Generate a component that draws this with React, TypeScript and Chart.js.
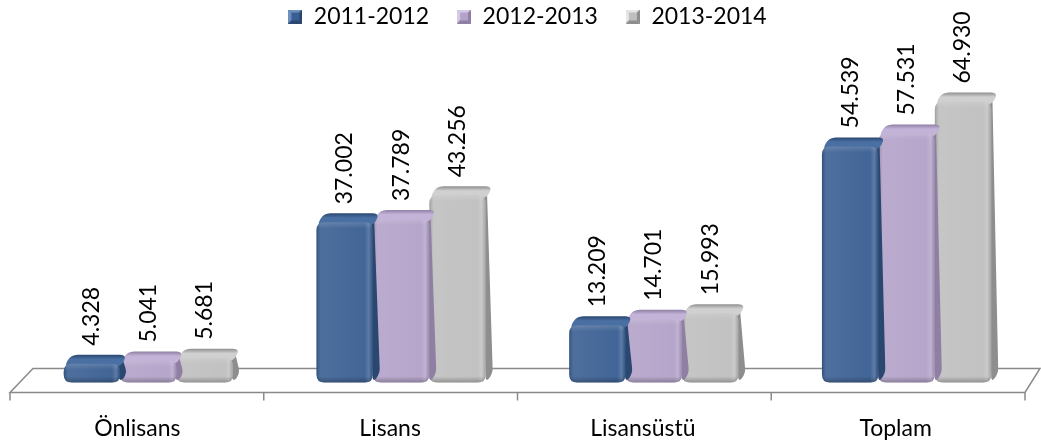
import React, { useEffect, useRef } from 'react';
import { Chart, registerables } from 'chart.js';

Chart.register(...registerables);

const categories = ['Önlisans', 'Lisans', 'Lisansüstü', 'Toplam'];
const seriesNames = ['2011-2012', '2012-2013', '2013-2014'];
const values2011 = [4328, 37002, 13209, 54539];
const values2012 = [5041, 37789, 14701, 57531];
const values2013 = [5681, 43256, 15993, 64930];
const frontColors = ['#3A5F93', '#B3A2C9', '#BFBFBF'];
const topColors = ['#4A6FA3', '#C3B3D8', '#D0D0D0'];
const sideColors = ['#2A4770', '#8E7FA3', '#8E8E8E'];
const lightColors = ['#6F8FBF', '#D6CAE6', '#E6E6E6'];

const FONT = 'Lato, "Open Sans", sans-serif';

function fmt(v: number): string {
  const s = String(Math.round(v));
  return s.replace(/\B(?=(\d{3})+(?!\d))/g, '.');
}

const DX = 7;
const DY = 9;

function roundedPoly(ctx: CanvasRenderingContext2D, pts: number[][], r: number) {
  const n = pts.length;
  ctx.beginPath();
  for (let i = 0; i < n; i++) {
    const p0 = pts[(i - 1 + n) % n];
    const p1 = pts[i];
    const p2 = pts[(i + 1) % n];
    const d1 = Math.hypot(p1[0] - p0[0], p1[1] - p0[1]);
    const d2 = Math.hypot(p2[0] - p1[0], p2[1] - p1[1]);
    const rr = Math.min(r, d1 / 2, d2 / 2);
    const a = [p1[0] + ((p0[0] - p1[0]) * rr) / d1, p1[1] + ((p0[1] - p1[1]) * rr) / d1];
    const b = [p1[0] + ((p2[0] - p1[0]) * rr) / d2, p1[1] + ((p2[1] - p1[1]) * rr) / d2];
    if (i === 0) ctx.moveTo(a[0], a[1]);
    else ctx.lineTo(a[0], a[1]);
    ctx.quadraticCurveTo(p1[0], p1[1], b[0], b[1]);
  }
  ctx.closePath();
}

function makeMarker(i: number): HTMLCanvasElement {
  const c = document.createElement('canvas');
  c.width = 14;
  c.height = 14;
  const g = c.getContext('2d');
  if (!g) return c;
  const s = 14;
  const e = 3;
  g.fillStyle = frontColors[i];
  g.fillRect(0, 0, s, s);
  // top bevel
  g.fillStyle = lightColors[i];
  g.beginPath();
  g.moveTo(0, 0); g.lineTo(s, 0); g.lineTo(s - e, e); g.lineTo(e, e); g.closePath();
  g.fill();
  // left bevel
  g.beginPath();
  g.moveTo(0, 0); g.lineTo(e, e); g.lineTo(e, s - e); g.lineTo(0, s); g.closePath();
  g.fill();
  // bottom / right bevel
  g.fillStyle = sideColors[i];
  g.beginPath();
  g.moveTo(0, s); g.lineTo(e, s - e); g.lineTo(s - e, s - e); g.lineTo(s, s); g.closePath();
  g.fill();
  g.beginPath();
  g.moveTo(s, 0); g.lineTo(s, s); g.lineTo(s - e, s - e); g.lineTo(s - e, e); g.closePath();
  g.fill();
  return c;
}

const floorPlugin = {
  id: 'floor3d',
  beforeDatasetsDraw(chart: any) {
    const { ctx, chartArea } = chart;
    const { left, right, bottom } = chartArea;
    const fy = bottom + 10;
    const by = bottom - 14;
    const fl = left - 12;
    const fr = right - 8;
    const bl = left + 11;
    const br = right + 7;
    ctx.save();
    ctx.strokeStyle = '#8A8A8A';
    ctx.lineWidth = 1.5;
    ctx.beginPath();
    ctx.moveTo(fl, fy);
    ctx.lineTo(fr, fy);
    ctx.lineTo(br, by);
    ctx.lineTo(bl, by);
    ctx.closePath();
    ctx.stroke();
    const n = categories.length;
    ctx.beginPath();
    for (let i = 0; i <= n; i++) {
      const x = fl + ((fr - fl) * i) / n;
      ctx.moveTo(x, fy);
      ctx.lineTo(x, fy + 8);
    }
    ctx.stroke();
    ctx.restore();
  },
};

const bar3dPlugin = {
  id: 'bar3d',
  afterDatasetDraw(chart: any, args: any) {
    const { ctx } = chart;
    const di = args.index;
    const meta = args.meta;
    const ds = chart.data.datasets[di];
    ctx.save();
    meta.data.forEach((el: any, i: number) => {
      const p = el.getProps(['x', 'y', 'base', 'width'], true);
      const l = p.x - p.width / 2;
      const r = p.x + p.width / 2;
      const t = p.y;
      const b = p.base;
      // side face
      roundedPoly(ctx, [[r - 6, t], [r - 6 + DX, t - DY], [r + DX, b - DY], [r, b]], 6);
      ctx.fillStyle = sideColors[di];
      ctx.fill();
      // top face
      roundedPoly(ctx, [[l, t + 4], [l + DX, t - DY], [r + DX, t - DY], [r, t + 4]], 7);
      const tg = ctx.createLinearGradient(0, t - DY, 0, t + 4);
      tg.addColorStop(0, sideColors[di]);
      tg.addColorStop(0.35, topColors[di]);
      tg.addColorStop(1, topColors[di]);
      ctx.fillStyle = tg;
      ctx.fill();
      // front face
      roundedPoly(ctx, [[l, t], [r, t], [r, b], [l, b]], 8);
      ctx.fillStyle = frontColors[di];
      ctx.fill();
      const hg = ctx.createLinearGradient(l, 0, r, 0);
      hg.addColorStop(0, 'rgba(0,0,0,0.18)');
      hg.addColorStop(0.08, 'rgba(255,255,255,0.10)');
      hg.addColorStop(0.85, 'rgba(255,255,255,0.04)');
      hg.addColorStop(0.93, 'rgba(255,255,255,0.18)');
      hg.addColorStop(1, 'rgba(0,0,0,0.12)');
      ctx.fillStyle = hg;
      ctx.fill();
      const vg = ctx.createLinearGradient(0, t, 0, b);
      const h = Math.max(b - t, 1);
      vg.addColorStop(0, 'rgba(255,255,255,0.15)');
      vg.addColorStop(Math.min(6 / h, 0.5), 'rgba(255,255,255,0)');
      vg.addColorStop(Math.max(1 - 6 / h, 0.5), 'rgba(0,0,0,0)');
      vg.addColorStop(1, 'rgba(0,0,0,0.25)');
      ctx.fillStyle = vg;
      ctx.fill();
      // value label
      const v = ds.data[i] as number;
      ctx.save();
      ctx.translate(p.x, t - DY - 9);
      ctx.rotate(-Math.PI / 2);
      ctx.fillStyle = '#000000';
      ctx.font = `23px ${FONT}`;
      ctx.textAlign = 'left';
      ctx.textBaseline = 'middle';
      ctx.fillText(fmt(v), 0, 0);
      ctx.restore();
    });
    ctx.restore();
  },
};

export default function App() {
  const ref = useRef<HTMLCanvasElement | null>(null);

  useEffect(() => {
    document.body.style.margin = '0';
    const canvas = ref.current;
    if (!canvas) return;
    const allSeries = [values2011, values2012, values2013];
    const markers = seriesNames.map((_, i) => makeMarker(i));
    const chart = new Chart(canvas, {
      type: 'bar',
      data: {
        labels: categories,
        datasets: allSeries.map((vals, i) => ({
          label: seriesNames[i],
          data: vals,
          backgroundColor: 'rgba(0,0,0,0)',
          borderWidth: 0,
          barPercentage: 1.0,
          categoryPercentage: 0.67,
        })),
      },
      options: {
        responsive: false,
        animation: false,
        maintainAspectRatio: false,
        layout: { padding: { left: 22, right: 8, top: -23, bottom: -22 } },
        plugins: {
          tooltip: { enabled: false },
          legend: {
            position: 'top',
            labels: {
              boxWidth: 14,
              boxHeight: 14,
              usePointStyle: true,
              padding: 28,
              color: '#000000',
              font: { family: FONT, size: 23 },
              generateLabels: () =>
                seriesNames.map((name, i) => ({
                  text: name,
                  fillStyle: frontColors[i],
                  strokeStyle: sideColors[i],
                  lineWidth: 0,
                  pointStyle: markers[i],
                  datasetIndex: i,
                  hidden: false,
                })),
            },
          },
        },
        scales: {
          x: {
            grid: { display: false },
            border: { display: false },
            ticks: {
              color: '#000000',
              font: { family: FONT, size: 23 },
              padding: 24,
              labelOffset: -11,
              maxRotation: 0,
            },
          },
          y: {
            display: false,
            min: 0,
            max: 79600,
          },
        },
      },
      plugins: [floorPlugin, bar3dPlugin],
    });
    return () => chart.destroy();
  }, []);

  return (
    <div style={{ width: 1041, height: 444 }}>
      <canvas ref={ref} width={1041} height={444} style={{ display: 'block' }} />
    </div>
  );
}
